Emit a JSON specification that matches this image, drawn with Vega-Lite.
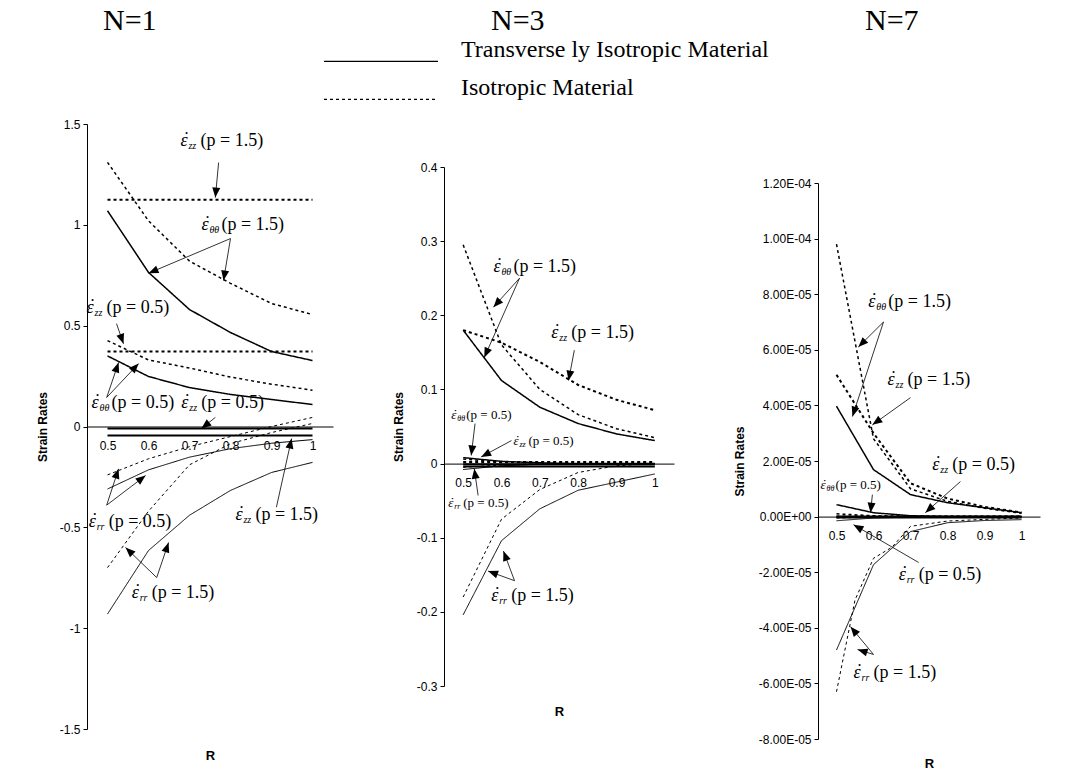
{
"$schema":"https://vega.github.io/schema/vega-lite/v6.json",
"background":"white",
"padding":{"left":36,"top":6,"right":5,"bottom":5},
"spacing":59,
"datasets":{
"lines":[
{"N":1,"mat":"T","comp":"θθ","p":1.5,"R":0.5,"v":1.07},{"N":1,"mat":"T","comp":"θθ","p":1.5,"R":0.6,"v":0.764},{"N":1,"mat":"T","comp":"θθ","p":1.5,"R":0.7,"v":0.58},{"N":1,"mat":"T","comp":"θθ","p":1.5,"R":0.8,"v":0.466},{"N":1,"mat":"T","comp":"θθ","p":1.5,"R":0.9,"v":0.372},{"N":1,"mat":"T","comp":"θθ","p":1.5,"R":1,"v":0.327},
{"N":1,"mat":"T","comp":"θθ","p":0.5,"R":0.5,"v":0.35},{"N":1,"mat":"T","comp":"θθ","p":0.5,"R":0.6,"v":0.248},{"N":1,"mat":"T","comp":"θθ","p":0.5,"R":0.7,"v":0.193},{"N":1,"mat":"T","comp":"θθ","p":0.5,"R":0.8,"v":0.159},{"N":1,"mat":"T","comp":"θθ","p":0.5,"R":0.9,"v":0.134},{"N":1,"mat":"T","comp":"θθ","p":0.5,"R":1,"v":0.109},
{"N":1,"mat":"T","comp":"zz","p":0.5,"R":0.5,"v":-0.01},{"N":1,"mat":"T","comp":"zz","p":0.5,"R":0.6,"v":-0.01},{"N":1,"mat":"T","comp":"zz","p":0.5,"R":0.7,"v":-0.01},{"N":1,"mat":"T","comp":"zz","p":0.5,"R":0.8,"v":-0.01},{"N":1,"mat":"T","comp":"zz","p":0.5,"R":0.9,"v":-0.01},{"N":1,"mat":"T","comp":"zz","p":0.5,"R":1,"v":-0.01},
{"N":1,"mat":"T","comp":"zz","p":1.5,"R":0.5,"v":-0.045},{"N":1,"mat":"T","comp":"zz","p":1.5,"R":0.6,"v":-0.045},{"N":1,"mat":"T","comp":"zz","p":1.5,"R":0.7,"v":-0.045},{"N":1,"mat":"T","comp":"zz","p":1.5,"R":0.8,"v":-0.045},{"N":1,"mat":"T","comp":"zz","p":1.5,"R":0.9,"v":-0.045},{"N":1,"mat":"T","comp":"zz","p":1.5,"R":1,"v":-0.045},
{"N":1,"mat":"T","comp":"rr","p":0.5,"R":0.5,"v":-0.31},{"N":1,"mat":"T","comp":"rr","p":0.5,"R":0.6,"v":-0.215},{"N":1,"mat":"T","comp":"rr","p":0.5,"R":0.7,"v":-0.152},{"N":1,"mat":"T","comp":"rr","p":0.5,"R":0.8,"v":-0.11},{"N":1,"mat":"T","comp":"rr","p":0.5,"R":0.9,"v":-0.083},{"N":1,"mat":"T","comp":"rr","p":0.5,"R":1,"v":-0.065},
{"N":1,"mat":"T","comp":"rr","p":1.5,"R":0.5,"v":-0.93},{"N":1,"mat":"T","comp":"rr","p":1.5,"R":0.6,"v":-0.615},{"N":1,"mat":"T","comp":"rr","p":1.5,"R":0.7,"v":-0.44},{"N":1,"mat":"T","comp":"rr","p":1.5,"R":0.8,"v":-0.317},{"N":1,"mat":"T","comp":"rr","p":1.5,"R":0.9,"v":-0.228},{"N":1,"mat":"T","comp":"rr","p":1.5,"R":1,"v":-0.178},
{"N":1,"mat":"I","comp":"θθ","p":1.5,"R":0.5,"v":1.31},{"N":1,"mat":"I","comp":"θθ","p":1.5,"R":0.6,"v":1.02},{"N":1,"mat":"I","comp":"θθ","p":1.5,"R":0.7,"v":0.82},{"N":1,"mat":"I","comp":"θθ","p":1.5,"R":0.8,"v":0.71},{"N":1,"mat":"I","comp":"θθ","p":1.5,"R":0.9,"v":0.61},{"N":1,"mat":"I","comp":"θθ","p":1.5,"R":1,"v":0.555},
{"N":1,"mat":"I","comp":"θθ","p":0.5,"R":0.5,"v":0.426},{"N":1,"mat":"I","comp":"θθ","p":0.5,"R":0.6,"v":0.33},{"N":1,"mat":"I","comp":"θθ","p":0.5,"R":0.7,"v":0.29},{"N":1,"mat":"I","comp":"θθ","p":0.5,"R":0.8,"v":0.245},{"N":1,"mat":"I","comp":"θθ","p":0.5,"R":0.9,"v":0.21},{"N":1,"mat":"I","comp":"θθ","p":0.5,"R":1,"v":0.18},
{"N":1,"mat":"I","comp":"zz","p":1.5,"R":0.5,"v":1.125},{"N":1,"mat":"I","comp":"zz","p":1.5,"R":0.6,"v":1.125},{"N":1,"mat":"I","comp":"zz","p":1.5,"R":0.7,"v":1.125},{"N":1,"mat":"I","comp":"zz","p":1.5,"R":0.8,"v":1.125},{"N":1,"mat":"I","comp":"zz","p":1.5,"R":0.9,"v":1.125},{"N":1,"mat":"I","comp":"zz","p":1.5,"R":1,"v":1.125},
{"N":1,"mat":"I","comp":"zz","p":0.5,"R":0.5,"v":0.372},{"N":1,"mat":"I","comp":"zz","p":0.5,"R":0.6,"v":0.372},{"N":1,"mat":"I","comp":"zz","p":0.5,"R":0.7,"v":0.372},{"N":1,"mat":"I","comp":"zz","p":0.5,"R":0.8,"v":0.372},{"N":1,"mat":"I","comp":"zz","p":0.5,"R":0.9,"v":0.372},{"N":1,"mat":"I","comp":"zz","p":0.5,"R":1,"v":0.372},
{"N":1,"mat":"I","comp":"rr","p":0.5,"R":0.5,"v":-0.24},{"N":1,"mat":"I","comp":"rr","p":0.5,"R":0.6,"v":-0.16},{"N":1,"mat":"I","comp":"rr","p":0.5,"R":0.7,"v":-0.1},{"N":1,"mat":"I","comp":"rr","p":0.5,"R":0.8,"v":-0.05},{"N":1,"mat":"I","comp":"rr","p":0.5,"R":0.9,"v":0},{"N":1,"mat":"I","comp":"rr","p":0.5,"R":1,"v":0.045},
{"N":1,"mat":"I","comp":"rr","p":1.5,"R":0.5,"v":-0.7},{"N":1,"mat":"I","comp":"rr","p":1.5,"R":0.6,"v":-0.42},{"N":1,"mat":"I","comp":"rr","p":1.5,"R":0.7,"v":-0.19},{"N":1,"mat":"I","comp":"rr","p":1.5,"R":0.8,"v":-0.085},{"N":1,"mat":"I","comp":"rr","p":1.5,"R":0.9,"v":-0.03},{"N":1,"mat":"I","comp":"rr","p":1.5,"R":1,"v":0.015},

{"N":3,"mat":"T","comp":"θθ","p":1.5,"R":0.5,"v":0.18},{"N":3,"mat":"T","comp":"θθ","p":1.5,"R":0.6,"v":0.112},{"N":3,"mat":"T","comp":"θθ","p":1.5,"R":0.7,"v":0.076},{"N":3,"mat":"T","comp":"θθ","p":1.5,"R":0.8,"v":0.054},{"N":3,"mat":"T","comp":"θθ","p":1.5,"R":0.9,"v":0.04},{"N":3,"mat":"T","comp":"θθ","p":1.5,"R":1,"v":0.031},
{"N":3,"mat":"T","comp":"θθ","p":0.5,"R":0.5,"v":0.008},{"N":3,"mat":"T","comp":"θθ","p":0.5,"R":0.6,"v":0.003},{"N":3,"mat":"T","comp":"θθ","p":0.5,"R":0.7,"v":0.001},{"N":3,"mat":"T","comp":"θθ","p":0.5,"R":0.8,"v":0},{"N":3,"mat":"T","comp":"θθ","p":0.5,"R":0.9,"v":0},{"N":3,"mat":"T","comp":"θθ","p":0.5,"R":1,"v":0},
{"N":3,"mat":"T","comp":"zz","p":0.5,"R":0.5,"v":-0.001},{"N":3,"mat":"T","comp":"zz","p":0.5,"R":0.6,"v":-0.001},{"N":3,"mat":"T","comp":"zz","p":0.5,"R":0.7,"v":-0.001},{"N":3,"mat":"T","comp":"zz","p":0.5,"R":0.8,"v":-0.001},{"N":3,"mat":"T","comp":"zz","p":0.5,"R":0.9,"v":-0.001},{"N":3,"mat":"T","comp":"zz","p":0.5,"R":1,"v":-0.001},
{"N":3,"mat":"T","comp":"zz","p":1.5,"R":0.5,"v":-0.004},{"N":3,"mat":"T","comp":"zz","p":1.5,"R":0.6,"v":-0.004},{"N":3,"mat":"T","comp":"zz","p":1.5,"R":0.7,"v":-0.004},{"N":3,"mat":"T","comp":"zz","p":1.5,"R":0.8,"v":-0.004},{"N":3,"mat":"T","comp":"zz","p":1.5,"R":0.9,"v":-0.004},{"N":3,"mat":"T","comp":"zz","p":1.5,"R":1,"v":-0.004},
{"N":3,"mat":"T","comp":"rr","p":0.5,"R":0.5,"v":-0.008},{"N":3,"mat":"T","comp":"rr","p":0.5,"R":0.6,"v":-0.003},{"N":3,"mat":"T","comp":"rr","p":0.5,"R":0.7,"v":-0.001},{"N":3,"mat":"T","comp":"rr","p":0.5,"R":0.8,"v":0},{"N":3,"mat":"T","comp":"rr","p":0.5,"R":0.9,"v":0},{"N":3,"mat":"T","comp":"rr","p":0.5,"R":1,"v":0},
{"N":3,"mat":"T","comp":"rr","p":1.5,"R":0.5,"v":-0.204},{"N":3,"mat":"T","comp":"rr","p":1.5,"R":0.6,"v":-0.104},{"N":3,"mat":"T","comp":"rr","p":1.5,"R":0.7,"v":-0.061},{"N":3,"mat":"T","comp":"rr","p":1.5,"R":0.8,"v":-0.036},{"N":3,"mat":"T","comp":"rr","p":1.5,"R":0.9,"v":-0.025},{"N":3,"mat":"T","comp":"rr","p":1.5,"R":1,"v":-0.014},
{"N":3,"mat":"I","comp":"θθ","p":1.5,"R":0.5,"v":0.295},{"N":3,"mat":"I","comp":"θθ","p":1.5,"R":0.6,"v":0.16},{"N":3,"mat":"I","comp":"θθ","p":1.5,"R":0.7,"v":0.1},{"N":3,"mat":"I","comp":"θθ","p":1.5,"R":0.8,"v":0.066},{"N":3,"mat":"I","comp":"θθ","p":1.5,"R":0.9,"v":0.047},{"N":3,"mat":"I","comp":"θθ","p":1.5,"R":1,"v":0.035},
{"N":3,"mat":"I","comp":"θθ","p":0.5,"R":0.5,"v":0.006},{"N":3,"mat":"I","comp":"θθ","p":0.5,"R":0.6,"v":0.002},{"N":3,"mat":"I","comp":"θθ","p":0.5,"R":0.7,"v":0.001},{"N":3,"mat":"I","comp":"θθ","p":0.5,"R":0.8,"v":0},{"N":3,"mat":"I","comp":"θθ","p":0.5,"R":0.9,"v":0},{"N":3,"mat":"I","comp":"θθ","p":0.5,"R":1,"v":0},
{"N":3,"mat":"I","comp":"zz","p":1.5,"R":0.5,"v":0.18},{"N":3,"mat":"I","comp":"zz","p":1.5,"R":0.6,"v":0.163},{"N":3,"mat":"I","comp":"zz","p":1.5,"R":0.7,"v":0.137},{"N":3,"mat":"I","comp":"zz","p":1.5,"R":0.8,"v":0.106},{"N":3,"mat":"I","comp":"zz","p":1.5,"R":0.9,"v":0.086},{"N":3,"mat":"I","comp":"zz","p":1.5,"R":1,"v":0.072},
{"N":3,"mat":"I","comp":"zz","p":0.5,"R":0.5,"v":0.002},{"N":3,"mat":"I","comp":"zz","p":0.5,"R":0.6,"v":0.002},{"N":3,"mat":"I","comp":"zz","p":0.5,"R":0.7,"v":0.002},{"N":3,"mat":"I","comp":"zz","p":0.5,"R":0.8,"v":0.002},{"N":3,"mat":"I","comp":"zz","p":0.5,"R":0.9,"v":0.002},{"N":3,"mat":"I","comp":"zz","p":0.5,"R":1,"v":0.002},
{"N":3,"mat":"I","comp":"rr","p":0.5,"R":0.5,"v":-0.005},{"N":3,"mat":"I","comp":"rr","p":0.5,"R":0.6,"v":-0.002},{"N":3,"mat":"I","comp":"rr","p":0.5,"R":0.7,"v":-0.001},{"N":3,"mat":"I","comp":"rr","p":0.5,"R":0.8,"v":0},{"N":3,"mat":"I","comp":"rr","p":0.5,"R":0.9,"v":0},{"N":3,"mat":"I","comp":"rr","p":0.5,"R":1,"v":0},
{"N":3,"mat":"I","comp":"rr","p":1.5,"R":0.5,"v":-0.18},{"N":3,"mat":"I","comp":"rr","p":1.5,"R":0.6,"v":-0.075},{"N":3,"mat":"I","comp":"rr","p":1.5,"R":0.7,"v":-0.035},{"N":3,"mat":"I","comp":"rr","p":1.5,"R":0.8,"v":-0.012},{"N":3,"mat":"I","comp":"rr","p":1.5,"R":0.9,"v":-0.003},{"N":3,"mat":"I","comp":"rr","p":1.5,"R":1,"v":0},

{"N":7,"mat":"T","comp":"θθ","p":1.5,"R":0.5,"v":3.97e-5},{"N":7,"mat":"T","comp":"θθ","p":1.5,"R":0.6,"v":1.69e-5},{"N":7,"mat":"T","comp":"θθ","p":1.5,"R":0.7,"v":7.9e-6},{"N":7,"mat":"T","comp":"θθ","p":1.5,"R":0.8,"v":5e-6},{"N":7,"mat":"T","comp":"θθ","p":1.5,"R":0.9,"v":3.2e-6},{"N":7,"mat":"T","comp":"θθ","p":1.5,"R":1,"v":1.4e-6},
{"N":7,"mat":"T","comp":"θθ","p":0.5,"R":0.5,"v":4.3e-6},{"N":7,"mat":"T","comp":"θθ","p":0.5,"R":0.6,"v":1.4e-6},{"N":7,"mat":"T","comp":"θθ","p":0.5,"R":0.7,"v":3e-7},{"N":7,"mat":"T","comp":"θθ","p":0.5,"R":0.8,"v":0},{"N":7,"mat":"T","comp":"θθ","p":0.5,"R":0.9,"v":0},{"N":7,"mat":"T","comp":"θθ","p":0.5,"R":1,"v":0},
{"N":7,"mat":"T","comp":"zz","p":0.5,"R":0.5,"v":0},{"N":7,"mat":"T","comp":"zz","p":0.5,"R":0.6,"v":0},{"N":7,"mat":"T","comp":"zz","p":0.5,"R":0.7,"v":0},{"N":7,"mat":"T","comp":"zz","p":0.5,"R":0.8,"v":0},{"N":7,"mat":"T","comp":"zz","p":0.5,"R":0.9,"v":0},{"N":7,"mat":"T","comp":"zz","p":0.5,"R":1,"v":0},
{"N":7,"mat":"T","comp":"zz","p":1.5,"R":0.5,"v":-3e-7},{"N":7,"mat":"T","comp":"zz","p":1.5,"R":0.6,"v":-3e-7},{"N":7,"mat":"T","comp":"zz","p":1.5,"R":0.7,"v":-3e-7},{"N":7,"mat":"T","comp":"zz","p":1.5,"R":0.8,"v":-3e-7},{"N":7,"mat":"T","comp":"zz","p":1.5,"R":0.9,"v":-3e-7},{"N":7,"mat":"T","comp":"zz","p":1.5,"R":1,"v":-3e-7},
{"N":7,"mat":"T","comp":"rr","p":0.5,"R":0.5,"v":-1.5e-6},{"N":7,"mat":"T","comp":"rr","p":0.5,"R":0.6,"v":-5e-7},{"N":7,"mat":"T","comp":"rr","p":0.5,"R":0.7,"v":-2e-7},{"N":7,"mat":"T","comp":"rr","p":0.5,"R":0.8,"v":-1e-7},{"N":7,"mat":"T","comp":"rr","p":0.5,"R":0.9,"v":0},{"N":7,"mat":"T","comp":"rr","p":0.5,"R":1,"v":0},
{"N":7,"mat":"T","comp":"rr","p":1.5,"R":0.5,"v":-4.8e-5},{"N":7,"mat":"T","comp":"rr","p":1.5,"R":0.6,"v":-1.73e-5},{"N":7,"mat":"T","comp":"rr","p":1.5,"R":0.7,"v":-5.4e-6},{"N":7,"mat":"T","comp":"rr","p":1.5,"R":0.8,"v":-2.2e-6},{"N":7,"mat":"T","comp":"rr","p":1.5,"R":0.9,"v":-1.4e-6},{"N":7,"mat":"T","comp":"rr","p":1.5,"R":1,"v":-1.1e-6},
{"N":7,"mat":"I","comp":"θθ","p":1.5,"R":0.5,"v":9.8e-5},{"N":7,"mat":"I","comp":"θθ","p":1.5,"R":0.6,"v":2.8e-5},{"N":7,"mat":"I","comp":"θθ","p":1.5,"R":0.7,"v":1e-5},{"N":7,"mat":"I","comp":"θθ","p":1.5,"R":0.8,"v":5.5e-6},{"N":7,"mat":"I","comp":"θθ","p":1.5,"R":0.9,"v":3e-6},{"N":7,"mat":"I","comp":"θθ","p":1.5,"R":1,"v":1.2e-6},
{"N":7,"mat":"I","comp":"θθ","p":0.5,"R":0.5,"v":1e-6},{"N":7,"mat":"I","comp":"θθ","p":0.5,"R":0.6,"v":3e-7},{"N":7,"mat":"I","comp":"θθ","p":0.5,"R":0.7,"v":0},{"N":7,"mat":"I","comp":"θθ","p":0.5,"R":0.8,"v":0},{"N":7,"mat":"I","comp":"θθ","p":0.5,"R":0.9,"v":0},{"N":7,"mat":"I","comp":"θθ","p":0.5,"R":1,"v":0},
{"N":7,"mat":"I","comp":"zz","p":1.5,"R":0.5,"v":5.1e-5},{"N":7,"mat":"I","comp":"zz","p":1.5,"R":0.6,"v":3e-5},{"N":7,"mat":"I","comp":"zz","p":1.5,"R":0.7,"v":1.2e-5},{"N":7,"mat":"I","comp":"zz","p":1.5,"R":0.8,"v":6.5e-6},{"N":7,"mat":"I","comp":"zz","p":1.5,"R":0.9,"v":3.5e-6},{"N":7,"mat":"I","comp":"zz","p":1.5,"R":1,"v":1.5e-6},
{"N":7,"mat":"I","comp":"zz","p":0.5,"R":0.5,"v":0},{"N":7,"mat":"I","comp":"zz","p":0.5,"R":0.6,"v":0},{"N":7,"mat":"I","comp":"zz","p":0.5,"R":0.7,"v":0},{"N":7,"mat":"I","comp":"zz","p":0.5,"R":0.8,"v":0},{"N":7,"mat":"I","comp":"zz","p":0.5,"R":0.9,"v":0},{"N":7,"mat":"I","comp":"zz","p":0.5,"R":1,"v":0},
{"N":7,"mat":"I","comp":"rr","p":0.5,"R":0.5,"v":-5e-7},{"N":7,"mat":"I","comp":"rr","p":0.5,"R":0.6,"v":-2e-7},{"N":7,"mat":"I","comp":"rr","p":0.5,"R":0.7,"v":0},{"N":7,"mat":"I","comp":"rr","p":0.5,"R":0.8,"v":0},{"N":7,"mat":"I","comp":"rr","p":0.5,"R":0.9,"v":0},{"N":7,"mat":"I","comp":"rr","p":0.5,"R":1,"v":0},
{"N":7,"mat":"I","comp":"rr","p":1.5,"R":0.5,"v":-6.3e-5},{"N":7,"mat":"I","comp":"rr","p":1.5,"R":0.55,"v":-3e-5},{"N":7,"mat":"I","comp":"rr","p":1.5,"R":0.6,"v":-1.5e-5},{"N":7,"mat":"I","comp":"rr","p":1.5,"R":0.65,"v":-1.1e-5},{"N":7,"mat":"I","comp":"rr","p":1.5,"R":0.7,"v":-3.5e-6},{"N":7,"mat":"I","comp":"rr","p":1.5,"R":0.8,"v":-1.6e-6},{"N":7,"mat":"I","comp":"rr","p":1.5,"R":0.9,"v":-1e-6},{"N":7,"mat":"I","comp":"rr","p":1.5,"R":1,"v":-5e-7}
],
"labels":[
{"N":1,"R":0.678,"v":1.418,"comp":"zz","label":"(p = 1.5)"},
{"N":1,"R":0.729,"v":0.997,"comp":"θθ","label":"(p = 1.5)"},
{"N":1,"R":0.449,"v":0.59,"comp":"zz","label":"(p = 0.5)"},
{"N":1,"R":0.461,"v":0.119,"comp":"θθ","label":"(p = 0.5)"},
{"N":1,"R":0.68,"v":0.119,"comp":"zz","label":"(p = 0.5)"},
{"N":1,"R":0.454,"v":-0.476,"comp":"rr","label":"(p = 0.5)"},
{"N":1,"R":0.559,"v":-0.828,"comp":"rr","label":"(p = 1.5)"},
{"N":1,"R":0.812,"v":-0.441,"comp":"zz","label":"(p = 1.5)"},
{"N":3,"R":0.579,"v":0.265,"comp":"θθ","label":"(p = 1.5)"},
{"N":3,"R":0.73,"v":0.176,"comp":"zz","label":"(p = 1.5)"},
{"N":3,"R":0.573,"v":-0.178,"comp":"rr","label":"(p = 1.5)"},
{"N":7,"R":0.586,"v":7.73e-5,"comp":"θθ","label":"(p = 1.5)"},
{"N":7,"R":0.638,"v":4.93e-5,"comp":"zz","label":"(p = 1.5)"},
{"N":7,"R":0.759,"v":1.87e-5,"comp":"zz","label":"(p = 0.5)"},
{"N":7,"R":0.668,"v":-2.09e-5,"comp":"rr","label":"(p = 0.5)"},
{"N":7,"R":0.546,"v":-5.61e-5,"comp":"rr","label":"(p = 1.5)"}
],
"smalllabels":[
{"N":3,"R":0.469,"v":0.065,"comp":"θθ","label":"(p = 0.5)"},
{"N":3,"R":0.631,"v":0.031,"comp":"zz","label":"(p = 0.5)"},
{"N":3,"R":0.461,"v":-0.053,"comp":"rr","label":"(p = 0.5)"},
{"N":7,"R":0.457,"v":1.15e-5,"comp":"θθ","label":"(p = 0.5)"}
],
"arrows":[
{"N":1,"R":0.771,"v":1.309,"R2":0.763,"v2":1.135},
{"N":1,"R":0.8,"v":0.932,"R2":0.6,"v2":0.76},
{"N":1,"R":0.8,"v":0.932,"R2":0.783,"v2":0.724},
{"N":1,"R":0.522,"v":0.51,"R2":0.539,"v2":0.41},
{"N":1,"R":0.498,"v":0.144,"R2":0.527,"v2":0.317},
{"N":1,"R":0.498,"v":0.144,"R2":0.576,"v2":0.312},
{"N":1,"R":0.763,"v":0.045,"R2":0.729,"v2":-0.01},
{"N":1,"R":0.498,"v":-0.39,"R2":0.527,"v2":-0.21},
{"N":1,"R":0.498,"v":-0.39,"R2":0.593,"v2":-0.243},
{"N":1,"R":0.62,"v":-0.749,"R2":0.544,"v2":-0.6},
{"N":1,"R":0.62,"v":-0.749,"R2":0.649,"v2":-0.575},
{"N":1,"R":0.912,"v":-0.4,"R2":0.949,"v2":-0.06},
{"N":3,"R":0.647,"v":0.25,"R2":0.579,"v2":0.211},
{"N":3,"R":0.647,"v":0.25,"R2":0.555,"v2":0.143},
{"N":3,"R":0.79,"v":0.153,"R2":0.775,"v2":0.112},
{"N":3,"R":0.531,"v":0.054,"R2":0.521,"v2":0.011},
{"N":3,"R":0.626,"v":0.031,"R2":0.547,"v2":0.009},
{"N":3,"R":0.539,"v":-0.043,"R2":0.529,"v2":-0.007},
{"N":3,"R":0.634,"v":-0.158,"R2":0.565,"v2":-0.145},
{"N":3,"R":0.634,"v":-0.158,"R2":0.605,"v2":-0.118},
{"N":7,"R":0.627,"v":7.0e-5,"R2":0.559,"v2":6.1e-5},
{"N":7,"R":0.627,"v":7.0e-5,"R2":0.543,"v2":3.6e-5},
{"N":7,"R":0.7,"v":4.28e-5,"R2":0.597,"v2":3.3e-5},
{"N":7,"R":0.835,"v":1.26e-5,"R2":0.74,"v2":1.4e-6},
{"N":7,"R":0.597,"v":7.9e-6,"R2":0.592,"v2":1.4e-6},
{"N":7,"R":0.722,"v":-1.65e-5,"R2":0.546,"v2":-2.9e-6},
{"N":7,"R":0.6,"v":-4.96e-5,"R2":0.538,"v2":-3.96e-5},
{"N":7,"R":0.6,"v":-4.96e-5,"R2":0.557,"v2":-4.78e-5}
]
},
"hconcat":[
{"spacing":0,"vconcat":[
{"width":246,"height":16,"title":{"text":"N=1","dx":16,"offset":66},"data":{"values":[]},"mark":"point"},
{
"width":246,"height":605,
"layer":[
{"data":{"name":"lines"},"transform":[{"filter":"datum.N==1"}],
"mark":{"type":"line","stroke":"black"},
"encoding":{
"x":{"field":"R","type":"quantitative","scale":{"domain":[0.45,1.05],"nice":false,"zero":false},"axis":{"title":"R","values":[0.5,0.6,0.7,0.8,0.9,1],"format":".1~f","offset":-302.5,"titlePadding":298}},
"y":{"field":"v","type":"quantitative","scale":{"domain":[-1.5,1.5],"nice":false,"zero":false},"axis":{"title":"Strain Rates","titlePadding":10,"values":[-1.5,-1,-0.5,0,0.5,1,1.5],"labelExpr":"replace(format(datum.value,'~g'),'\u2212','-')"}},
"strokeDash":{"field":"mat","type":"nominal","scale":{"domain":["T","I"],"range":[[1,0],[3,3]]},"legend":{"title":null,"labelExpr":"datum.label == 'T' ? 'Transverse ly Isotropic Material' : 'Isotropic Material'"}},
"strokeWidth":{"field":"comp","type":"ordinal","scale":{"domain":["rr","θθ","zz"],"range":[1,2,4]},"legend":null},
"detail":{"field":"p","type":"nominal"}}},
{"data":{"name":"arrows"},"transform":[{"filter":"datum.N==1"}],
"mark":{"type":"rule","stroke":"black","strokeWidth":0.8},
"encoding":{"x":{"field":"R","type":"quantitative"},"y":{"field":"v","type":"quantitative"},"x2":{"field":"R2"},"y2":{"field":"v2"}}},
{"data":{"name":"arrows"},"transform":[{"filter":"datum.N==1"},{"calculate":"atan2((datum.R2-datum.R)*410,(datum.v2-datum.v)*201.7)*180/PI","as":"ang"}],
"mark":{"type":"point","shape":"M0,0L-0.4,1L0.4,1Z","filled":true,"fill":"black","strokeWidth":0,"size":400,"opacity":1},
"encoding":{"x":{"field":"R2","type":"quantitative"},"y":{"field":"v2","type":"quantitative"},"angle":{"field":"ang","type":"quantitative","scale":null}}},
{"data":{"name":"labels"},"transform":[{"filter":"datum.N==1"}],
"mark":{"type":"text","text":"\u03b5","font":"Liberation Serif","fontStyle":"italic","fontSize":18,"align":"left","baseline":"middle","color":"black"},
"encoding":{"x":{"field":"R","type":"quantitative"},"y":{"field":"v","type":"quantitative"}}},
{"data":{"name":"labels"},"transform":[{"filter":"datum.N==1"}],
"mark":{"type":"text","text":"\u02d9","font":"Liberation Serif","fontSize":18,"align":"left","baseline":"middle","dx":3,"dy":-1,"color":"black"},
"encoding":{"x":{"field":"R","type":"quantitative"},"y":{"field":"v","type":"quantitative"}}},
{"data":{"name":"labels"},"transform":[{"filter":"datum.N==1"}],
"mark":{"type":"text","font":"Liberation Serif","fontStyle":"italic","fontSize":10,"align":"left","baseline":"middle","dx":8,"dy":5,"color":"black"},
"encoding":{"x":{"field":"R","type":"quantitative"},"y":{"field":"v","type":"quantitative"},"text":{"field":"comp"}}},
{"data":{"name":"labels"},"transform":[{"filter":"datum.N==1"}],
"mark":{"type":"text","font":"Liberation Serif","fontSize":18,"align":"left","baseline":"middle","dx":20,"color":"black"},
"encoding":{"x":{"field":"R","type":"quantitative"},"y":{"field":"v","type":"quantitative"},"text":{"field":"label"}}}
]
}]},
{"spacing":0,"vconcat":[
{"width":230,"height":59,"title":{"text":"N=3","dx":47,"offset":66},"data":{"values":[]},"mark":"point"},
{
"width":230,"height":519,
"layer":[
{"data":{"name":"lines"},"transform":[{"filter":"datum.N==3"}],
"mark":{"type":"line","stroke":"black"},
"encoding":{
"x":{"field":"R","type":"quantitative","scale":{"domain":[0.45,1.05],"nice":false,"zero":false},"axis":{"title":"R","values":[0.5,0.6,0.7,0.8,0.9,1],"format":".1~f","offset":-222.4,"titlePadding":217}},
"y":{"field":"v","type":"quantitative","scale":{"domain":[-0.3,0.4],"nice":false,"zero":false},"axis":{"title":"Strain Rates","titlePadding":11,"values":[-0.3,-0.2,-0.1,0,0.1,0.2,0.3,0.4],"labelExpr":"replace(format(datum.value,'~g'),'\u2212','-')"}},
"strokeDash":{"field":"mat","type":"nominal","scale":{"domain":["T","I"],"range":[[1,0],[3,3]]},"legend":{"title":null,"labelExpr":"datum.label == 'T' ? 'Transverse ly Isotropic Material' : 'Isotropic Material'"}},
"strokeWidth":{"field":"comp","type":"ordinal","scale":{"domain":["rr","θθ","zz"],"range":[1,2,4]},"legend":null},
"detail":{"field":"p","type":"nominal"}}},
{"data":{"name":"arrows"},"transform":[{"filter":"datum.N==3"}],
"mark":{"type":"rule","stroke":"black","strokeWidth":0.8},
"encoding":{"x":{"field":"R","type":"quantitative"},"y":{"field":"v","type":"quantitative"},"x2":{"field":"R2"},"y2":{"field":"v2"}}},
{"data":{"name":"arrows"},"transform":[{"filter":"datum.N==3"},{"calculate":"atan2((datum.R2-datum.R)*383.3,(datum.v2-datum.v)*741.4)*180/PI","as":"ang"}],
"mark":{"type":"point","shape":"M0,0L-0.4,1L0.4,1Z","filled":true,"fill":"black","strokeWidth":0,"size":400,"opacity":1},
"encoding":{"x":{"field":"R2","type":"quantitative"},"y":{"field":"v2","type":"quantitative"},"angle":{"field":"ang","type":"quantitative","scale":null}}},
{"data":{"name":"labels"},"transform":[{"filter":"datum.N==3"}],
"mark":{"type":"text","text":"\u03b5","font":"Liberation Serif","fontStyle":"italic","fontSize":18,"align":"left","baseline":"middle","color":"black"},
"encoding":{"x":{"field":"R","type":"quantitative"},"y":{"field":"v","type":"quantitative"}}},
{"data":{"name":"labels"},"transform":[{"filter":"datum.N==3"}],
"mark":{"type":"text","text":"\u02d9","font":"Liberation Serif","fontSize":18,"align":"left","baseline":"middle","dx":3,"dy":-1,"color":"black"},
"encoding":{"x":{"field":"R","type":"quantitative"},"y":{"field":"v","type":"quantitative"}}},
{"data":{"name":"labels"},"transform":[{"filter":"datum.N==3"}],
"mark":{"type":"text","font":"Liberation Serif","fontStyle":"italic","fontSize":10,"align":"left","baseline":"middle","dx":8,"dy":5,"color":"black"},
"encoding":{"x":{"field":"R","type":"quantitative"},"y":{"field":"v","type":"quantitative"},"text":{"field":"comp"}}},
{"data":{"name":"labels"},"transform":[{"filter":"datum.N==3"}],
"mark":{"type":"text","font":"Liberation Serif","fontSize":18,"align":"left","baseline":"middle","dx":20,"color":"black"},
"encoding":{"x":{"field":"R","type":"quantitative"},"y":{"field":"v","type":"quantitative"},"text":{"field":"label"}}},
{"data":{"name":"smalllabels"},"transform":[{"filter":"datum.N==3"}],
"mark":{"type":"text","text":"\u03b5","font":"Liberation Serif","fontStyle":"italic","fontSize":13,"align":"left","baseline":"middle","color":"black"},
"encoding":{"x":{"field":"R","type":"quantitative"},"y":{"field":"v","type":"quantitative"}}},
{"data":{"name":"smalllabels"},"transform":[{"filter":"datum.N==3"}],
"mark":{"type":"text","text":"\u02d9","font":"Liberation Serif","fontSize":13,"align":"left","baseline":"middle","dx":2,"dy":-1,"color":"black"},
"encoding":{"x":{"field":"R","type":"quantitative"},"y":{"field":"v","type":"quantitative"}}},
{"data":{"name":"smalllabels"},"transform":[{"filter":"datum.N==3"}],
"mark":{"type":"text","font":"Liberation Serif","fontStyle":"italic","fontSize":8,"align":"left","baseline":"middle","dx":6,"dy":4,"color":"black"},
"encoding":{"x":{"field":"R","type":"quantitative"},"y":{"field":"v","type":"quantitative"},"text":{"field":"comp"}}},
{"data":{"name":"smalllabels"},"transform":[{"filter":"datum.N==3"}],
"mark":{"type":"text","font":"Liberation Serif","fontSize":13,"align":"left","baseline":"middle","dx":15,"color":"black"},
"encoding":{"x":{"field":"R","type":"quantitative"},"y":{"field":"v","type":"quantitative"},"text":{"field":"label"}}}
]
}]},
{"spacing":0,"vconcat":[
{"width":222,"height":75,"title":{"text":"N=7","dx":47,"offset":66},"data":{"values":[]},"mark":"point"},
{
"width":222,"height":556,
"layer":[
{"data":{"name":"lines"},"transform":[{"filter":"datum.N==7"}],
"mark":{"type":"line","stroke":"black"},
"encoding":{
"x":{"field":"R","type":"quantitative","scale":{"domain":[0.45,1.05],"nice":false,"zero":false},"axis":{"title":"R","values":[0.5,0.6,0.7,0.8,0.9,1],"format":".1~f","offset":-222.4,"titlePadding":216}},
"y":{"field":"v","type":"quantitative","scale":{"domain":[-8e-5,1.2e-4],"nice":false,"zero":false},"axis":{"title":"Strain Rates","titlePadding":12,"values":[-8e-5,-6e-5,-4e-5,-2e-5,0,2e-5,4e-5,6e-5,8e-5,1e-4,1.2e-4],"labelExpr":"replace(replace(replace(upper(format(datum.value,'.2e')),'E-','E-0'),'E+','E+0'),'\u2212','-')"}},
"strokeDash":{"field":"mat","type":"nominal","scale":{"domain":["T","I"],"range":[[1,0],[3,3]]},"legend":{"title":null,"labelExpr":"datum.label == 'T' ? 'Transverse ly Isotropic Material' : 'Isotropic Material'"}},
"strokeWidth":{"field":"comp","type":"ordinal","scale":{"domain":["rr","θθ","zz"],"range":[1,2,4]},"legend":null},
"detail":{"field":"p","type":"nominal"}}},
{"data":{"name":"arrows"},"transform":[{"filter":"datum.N==7"}],
"mark":{"type":"rule","stroke":"black","strokeWidth":0.8},
"encoding":{"x":{"field":"R","type":"quantitative"},"y":{"field":"v","type":"quantitative"},"x2":{"field":"R2"},"y2":{"field":"v2"}}},
{"data":{"name":"arrows"},"transform":[{"filter":"datum.N==7"},{"calculate":"atan2((datum.R2-datum.R)*370,(datum.v2-datum.v)*2780000)*180/PI","as":"ang"}],
"mark":{"type":"point","shape":"M0,0L-0.4,1L0.4,1Z","filled":true,"fill":"black","strokeWidth":0,"size":400,"opacity":1},
"encoding":{"x":{"field":"R2","type":"quantitative"},"y":{"field":"v2","type":"quantitative"},"angle":{"field":"ang","type":"quantitative","scale":null}}},
{"data":{"name":"labels"},"transform":[{"filter":"datum.N==7"}],
"mark":{"type":"text","text":"\u03b5","font":"Liberation Serif","fontStyle":"italic","fontSize":18,"align":"left","baseline":"middle","color":"black"},
"encoding":{"x":{"field":"R","type":"quantitative"},"y":{"field":"v","type":"quantitative"}}},
{"data":{"name":"labels"},"transform":[{"filter":"datum.N==7"}],
"mark":{"type":"text","text":"\u02d9","font":"Liberation Serif","fontSize":18,"align":"left","baseline":"middle","dx":3,"dy":-1,"color":"black"},
"encoding":{"x":{"field":"R","type":"quantitative"},"y":{"field":"v","type":"quantitative"}}},
{"data":{"name":"labels"},"transform":[{"filter":"datum.N==7"}],
"mark":{"type":"text","font":"Liberation Serif","fontStyle":"italic","fontSize":10,"align":"left","baseline":"middle","dx":8,"dy":5,"color":"black"},
"encoding":{"x":{"field":"R","type":"quantitative"},"y":{"field":"v","type":"quantitative"},"text":{"field":"comp"}}},
{"data":{"name":"labels"},"transform":[{"filter":"datum.N==7"}],
"mark":{"type":"text","font":"Liberation Serif","fontSize":18,"align":"left","baseline":"middle","dx":20,"color":"black"},
"encoding":{"x":{"field":"R","type":"quantitative"},"y":{"field":"v","type":"quantitative"},"text":{"field":"label"}}},
{"data":{"name":"smalllabels"},"transform":[{"filter":"datum.N==7"}],
"mark":{"type":"text","text":"\u03b5","font":"Liberation Serif","fontStyle":"italic","fontSize":13,"align":"left","baseline":"middle","color":"black"},
"encoding":{"x":{"field":"R","type":"quantitative"},"y":{"field":"v","type":"quantitative"}}},
{"data":{"name":"smalllabels"},"transform":[{"filter":"datum.N==7"}],
"mark":{"type":"text","text":"\u02d9","font":"Liberation Serif","fontSize":13,"align":"left","baseline":"middle","dx":2,"dy":-1,"color":"black"},
"encoding":{"x":{"field":"R","type":"quantitative"},"y":{"field":"v","type":"quantitative"}}},
{"data":{"name":"smalllabels"},"transform":[{"filter":"datum.N==7"}],
"mark":{"type":"text","font":"Liberation Serif","fontStyle":"italic","fontSize":8,"align":"left","baseline":"middle","dx":6,"dy":4,"color":"black"},
"encoding":{"x":{"field":"R","type":"quantitative"},"y":{"field":"v","type":"quantitative"},"text":{"field":"comp"}}},
{"data":{"name":"smalllabels"},"transform":[{"filter":"datum.N==7"}],
"mark":{"type":"text","font":"Liberation Serif","fontSize":13,"align":"left","baseline":"middle","dx":15,"color":"black"},
"encoding":{"x":{"field":"R","type":"quantitative"},"y":{"field":"v","type":"quantitative"},"text":{"field":"label"}}}
]
}]}
],
"config":{
"view":{"stroke":null},
"font":"Liberation Sans",
"title":{"font":"Liberation Serif","fontSize":30,"fontWeight":"normal","anchor":"start","frame":"group","color":"black"},
"axisY":{"domainColor":"black","tickColor":"black","tickSize":4,"labelPadding":3,"labelFont":"Liberation Sans","labelFontSize":12,"labelColor":"black","titleFont":"Liberation Sans","titleFontSize":12,"titleFontWeight":"bold","titleColor":"black","grid":false},
"axisX":{"domainColor":"black","ticks":false,"tickSize":0,"labelPadding":14,"labelFont":"Liberation Sans","labelFontSize":12,"labelColor":"black","titleFont":"Liberation Sans","titleFontSize":13,"titleFontWeight":"bold","titleColor":"black","grid":false},
"legend":{"orient":"none","legendX":236,"legendY":-67,"labelFont":"Liberation Serif","labelFontSize":24,"labelColor":"black","symbolType":"M-1,0.2L1,0.2","symbolSize":13000,"symbolStrokeColor":"black","symbolStrokeWidth":1.2,"clipHeight":30,"rowPadding":8,"labelOffset":22,"labelLimit":500}
}
}
